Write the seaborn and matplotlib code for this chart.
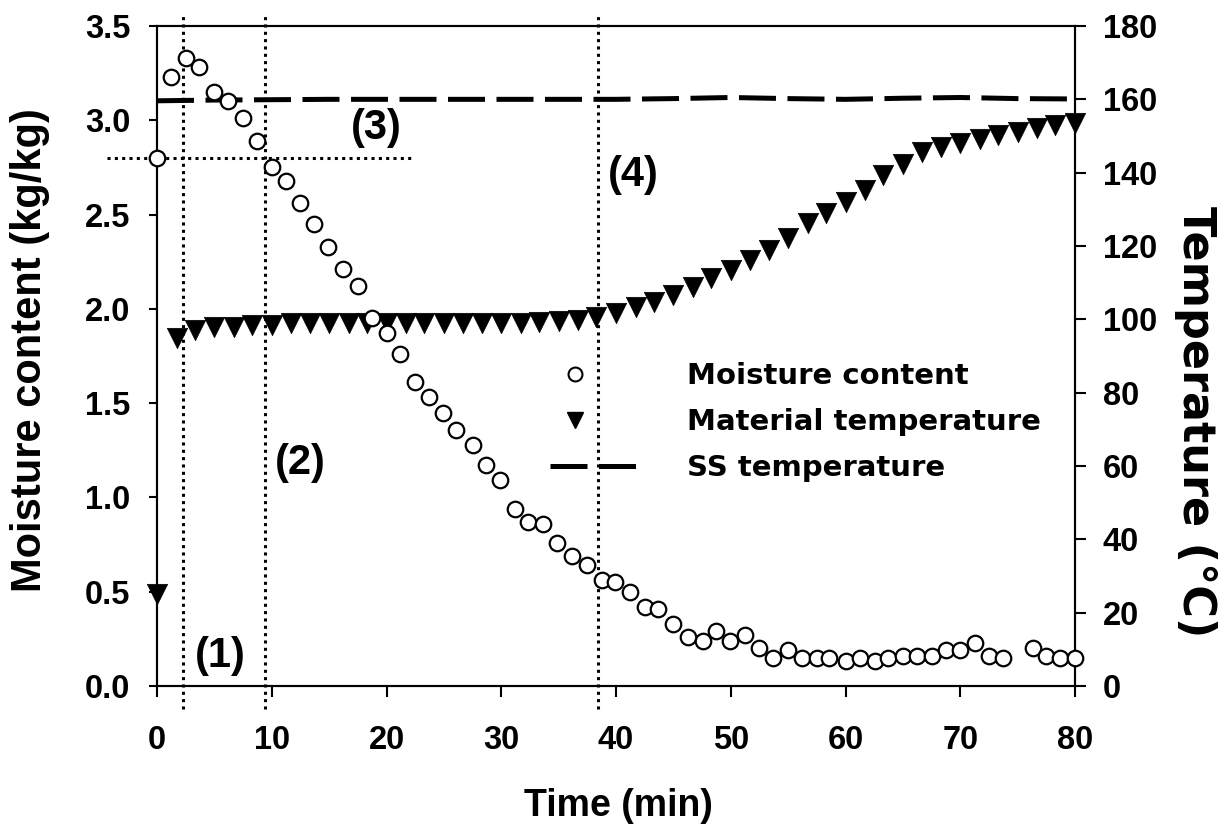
import numpy as np
import pandas as pd
import matplotlib
matplotlib.use("Agg")
import matplotlib.pyplot as plt
from matplotlib.lines import Line2D
from matplotlib.legend_handler import HandlerLine2D
import seaborn as sns

# ---------------- data ----------------
moist_time = [0.0, 1.2, 2.5, 3.7, 5.0, 6.2, 7.5, 8.7, 10.0, 11.2, 12.5, 13.7, 14.9, 16.2,
              17.5, 18.7, 20.0, 21.2, 22.5, 23.7, 24.9, 26.1, 27.5, 28.7, 29.9, 31.2,
              32.3, 33.6, 34.9, 36.2, 37.5, 38.8, 39.9, 41.2, 42.5, 43.7, 45.0, 46.3,
              47.6, 48.7, 49.9, 51.2, 52.5, 53.7, 55.0, 56.2, 57.5, 58.6, 60.0, 61.3,
              62.6, 63.7, 65.0, 66.2, 67.5, 68.8, 70.0, 71.3, 72.5, 73.7, 76.3, 77.5,
              78.7, 80.0]
moist_val = [2.80, 3.23, 3.33, 3.28, 3.15, 3.10, 3.01, 2.89, 2.75, 2.68, 2.56, 2.45, 2.33,
             2.21, 2.12, 1.95, 1.87, 1.76, 1.61, 1.53, 1.45, 1.36, 1.28, 1.17, 1.09, 0.94,
             0.87, 0.86, 0.76, 0.69, 0.64, 0.56, 0.55, 0.50, 0.42, 0.41, 0.33, 0.26, 0.24,
             0.29, 0.24, 0.27, 0.20, 0.15, 0.19, 0.15, 0.15, 0.15, 0.13, 0.15, 0.13, 0.15,
             0.16, 0.16, 0.16, 0.19, 0.19, 0.23, 0.16, 0.15, 0.20, 0.16, 0.15, 0.15]

temp_time = [0.0, 1.7, 3.3, 5.0, 6.7, 8.3, 10.0, 11.7, 13.3, 15.0, 16.7, 18.3, 20.0, 21.7,
             23.3, 25.0, 26.7, 28.3, 30.0, 31.7, 33.3, 35.0, 36.7, 38.3, 40.0, 41.7, 43.3,
             45.0, 46.7, 48.3, 50.0, 51.7, 53.3, 55.0, 56.7, 58.3, 60.0, 61.7, 63.3, 65.0,
             66.7, 68.3, 70.0, 71.7, 73.3, 75.0, 76.7, 78.3, 80.0]
temp_val = [25.0, 95.0, 97.0, 98.0, 98.0, 98.5, 98.5, 99.0, 99.0, 99.0, 99.0, 99.0, 99.0,
            99.0, 99.0, 99.0, 99.0, 99.0, 99.0, 99.0, 99.3, 99.6, 99.8, 100.7, 101.6, 103.4,
            104.8, 106.6, 108.9, 111.2, 113.4, 116.2, 118.9, 122.1, 126.2, 128.9, 132.1,
            135.3, 139.4, 142.5, 145.7, 146.9, 148.0, 149.2, 150.3, 151.2, 152.1, 153.0,
            153.6]

ss_time = [0, 5, 10, 15, 20, 25, 30, 35, 40, 45, 50, 55, 60, 65, 70, 75, 80]
ss_temp = [159.6, 159.8, 159.9, 160.0, 160.0, 160.0, 160.0, 160.0, 160.0, 160.2, 160.5,
           160.2, 160.0, 160.3, 160.5, 160.2, 160.1]

stage_lines = [2.3, 9.4, 38.4]
stage_labels = ["(1)", "(2)", "(3)", "(4)"]
stage_pos = [(5.5, 0.16), (12.5, 1.18), (19.1, 2.96), (41.5, 2.71)]
h_line_y = 2.80
h_line_x = (-4.4, 22.2)

series_names = ["Moisture content", "Material temperature", "SS temperature"]
x_ticks = [0, 10, 20, 30, 40, 50, 60, 70, 80]
y_ticks = [0.0, 0.5, 1.0, 1.5, 2.0, 2.5, 3.0, 3.5]
y2_ticks = [0, 20, 40, 60, 80, 100, 120, 140, 160, 180]

# ---------------- style ----------------
sns.set_style("ticks")
plt.rcParams["font.family"] = ["Liberation Sans", "DejaVu Sans"]
plt.rcParams["font.weight"] = "bold"
for key in ("text.color", "axes.labelcolor", "xtick.color", "ytick.color", "axes.edgecolor"):
    plt.rcParams[key] = "black"


class LeftMarker(HandlerLine2D):
    """Marker-only legend handle drawn towards the left of the handle box."""
    def get_xdata(self, legend, xdescent, ydescent, width, height, fontsize):
        xdata = np.array([-xdescent, -xdescent + 0.58 * width])
        return xdata, np.array([-xdescent + 0.29 * width])


W, H = 1218, 834
fig = plt.figure(figsize=(W / 100, H / 100), dpi=100)
L, R, T, B = 157, 1075, 26, 686
ax = fig.add_axes([L / W, 1 - B / H, (R - L) / W, (B - T) / H])
ax2 = ax.twinx()

mdf = pd.DataFrame({"t": moist_time, "m": moist_val})
tdf = pd.DataFrame({"t": temp_time, "T": temp_val})
sdf = pd.DataFrame({"t": ss_time, "T": ss_temp})

sns.scatterplot(data=mdf, x="t", y="m", ax=ax, marker="o", s=125,
                facecolor="white", edgecolor="black", linewidth=1.6,
                clip_on=False, zorder=5, legend=False)
sns.scatterplot(data=tdf, x="t", y="T", ax=ax2, marker="v", s=215,
                color="black", edgecolor="black", linewidth=0.5,
                clip_on=False, zorder=5, legend=False)
sns.lineplot(data=sdf, x="t", y="T", ax=ax2, color="black", linewidth=3.6,
             legend=False, zorder=4)
ss_line = ax2.lines[-1]
ss_line.set_dashes((7.4, 2.3))
ss_line.set_dash_capstyle("butt")

dot_style = dict(color="black", linewidth=2.2, dashes=(1.0, 1.4), clip_on=False, zorder=3)
for xv in stage_lines:
    ax.plot([xv, xv], [-0.12, 3.57], **dot_style)
ax.plot(list(h_line_x), [h_line_y, h_line_y], **dot_style)

for lab, (xv, yv) in zip(stage_labels, stage_pos):
    ax.text(xv, yv, lab, ha="center", va="center", fontsize=30, fontweight="bold",
            zorder=6)

ax.set_xlim(0, 80)
ax.set_ylim(0, 3.5)
ax2.set_ylim(0, 180)
ax.set_xticks(x_ticks)
ax.set_yticks(y_ticks)
ax.set_yticklabels([f"{v:.1f}" for v in y_ticks])
ax2.set_yticks(y2_ticks)

for a in (ax, ax2):
    for sp in a.spines.values():
        sp.set_visible(True)
        sp.set_linewidth(1.5)
        sp.set_color("black")
ax.tick_params(axis="x", direction="out", length=8, width=1.5, pad=20, labelsize=23.5)
ax.tick_params(axis="y", direction="out", length=6, width=1.5, pad=13, labelsize=23.5)
ax2.tick_params(axis="y", direction="out", length=8, width=1.5, pad=12, labelsize=23.5)
for lbl in ax.get_xticklabels() + ax.get_yticklabels() + ax2.get_yticklabels():
    lbl.set_fontweight("bold")

ax.set_xlabel("Time (min)", fontsize=27, fontweight="bold")
ax.xaxis.set_label_coords((618 - L) / (R - L), (B - 788) / (B - T))
ax.set_ylabel("Moisture content (kg/kg)", fontsize=30, fontweight="bold",
              rotation=90, ha="center", va="center", rotation_mode="anchor")
ax.yaxis.set_label_coords((30 - L) / (R - L), (B - 350) / (B - T))
ax2.set_ylabel("Temperature (°C)", fontsize=32, fontweight="bold",
               family=["DejaVu Sans"], rotation=270, ha="center", va="center",
               rotation_mode="anchor")
ax2.yaxis.set_label_coords((1195 - L) / (R - L), (B - 422) / (B - T))
ax.set_zorder(ax2.get_zorder() + 1)
ax.patch.set_visible(False)

handles = [
    Line2D([], [], linestyle="none", marker="o", markersize=10, markerfacecolor="white",
           markeredgecolor="black", markeredgewidth=1.5),
    Line2D([], [], linestyle="none", marker="v", markersize=12, color="black"),
    Line2D([], [], color="black", linewidth=3.6, dashes=(7.4, 2.3)),
]
leg = fig.legend(handles, series_names, loc="upper left",
                 bbox_to_anchor=(550 / W, 1 - 362 / H), bbox_transform=fig.transFigure,
                 frameon=False, borderpad=0, borderaxespad=0, handlelength=3.0,
                 handletextpad=1.7, labelspacing=0.62,
                 handler_map={handles[0]: LeftMarker(), handles[1]: LeftMarker()},
                 prop={"family": "DejaVu Sans", "weight": "bold", "size": 21})

fig.savefig("out.png", dpi=100)
